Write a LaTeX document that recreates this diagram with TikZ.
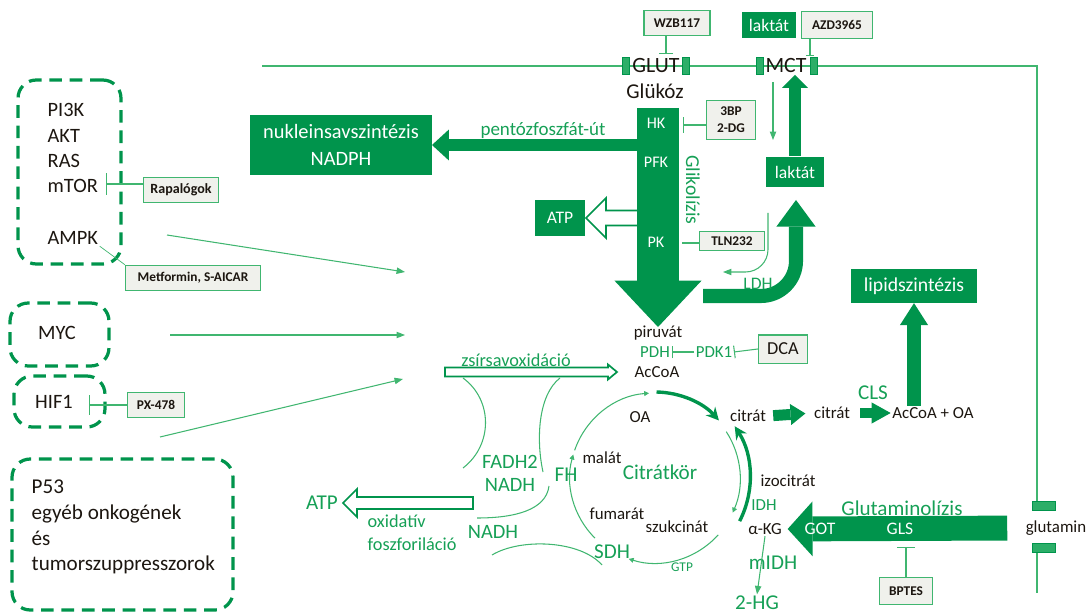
\documentclass[tikz,border=0pt]{standalone}
\usepackage{fontspec}
\setmainfont{Carlito}
\usetikzlibrary{arrows.meta,positioning,fit,calc}

\definecolor{gdark}{RGB}{0,148,76}
\definecolor{gline}{RGB}{64,182,112}
\definecolor{gtext}{RGB}{22,160,86}
\definecolor{gbar}{RGB}{44,174,104}
\definecolor{dfill}{RGB}{240,241,236}
\definecolor{ink}{RGB}{28,22,16}

\tikzset{
  lbl/.style={inner sep=1pt, text=ink, font=\fontsize{#1}{#1}\selectfont},
  lbl/.default=12,
  glbl/.style={inner sep=1pt, text=gtext, font=\fontsize{#1}{#1}\selectfont},
  glbl/.default=13,
  wlbl/.style={inner sep=1pt, text=white, font=\fontsize{#1}{#1}\selectfont},
  wlbl/.default=11.5,
  darkbox/.style={fill=gdark, text=white, inner sep=0pt, font=\fontsize{12.5}{15}\selectfont},
  drug/.style={draw=gline, fill=dfill, line width=0.8pt, text=ink, inner sep=0pt,
    font=\bfseries\fontsize{9.5}{12}\selectfont, minimum height=18pt},
  grp/.style={draw=gdark, line width=2.3pt, dash pattern=on 9pt off 5.5pt,
    rounded corners=13pt, inner sep=0pt},
  chan/.style={draw=gdark, fill=gbar, line width=0.6pt, inner sep=0pt},
  flow/.style={draw=gline, line width=0.75pt},
  flowarr/.style={flow, -{Triangle[length=6pt,width=4.5pt]}},
  tinyarr/.style={flow, -{Triangle[length=3.5pt,width=3.5pt]}},
  inh/.style={flow, -{Bar[width=#1]}},
  inh/.default=10pt,
  fat/.style n args={3}{draw=gdark, line width=#1,
    -{Triangle[width=#2,length=#3,line width=0pt]}},
  cyc/.style={draw=gdark, line width=2.4pt, -{Stealth[length=9pt,width=9pt]}}
}

\begin{document}
\begin{tikzpicture}[x=0.025cm, y=-0.025cm]
\useasboundingbox (0,0) rectangle (1091,616);

\newcommand{\openArrow}[6]{% tail x, tip x, y, shaft half, head half, head length
  \pgfmathsetmacro{\headBase}{#2+sign(#1-#2)*#6}
  \draw[gdark, line width=1.2pt, fill=white, line join=miter]
    (#1,#3-#4) -- (\headBase,#3-#4) -- (\headBase,#3-#5) -- (#2,#3) --
    (\headBase,#3+#5) -- (\headBase,#3+#4) -- (#1,#3+#4) -- cycle;
}

% membrane and transporters
\draw[flow] (262,66) -- (1037,66) -- (1037,502);
\draw[flow] (1037,553) -- (1037,593);
\node[chan, minimum width=4.5pt, minimum height=12pt] (glutL) at (626,66) {};
\node[chan, minimum width=4.5pt, minimum height=12pt] (glutR) at (686,66) {};
\node[chan, minimum width=4.5pt, minimum height=12pt] (mctL) at (760,66) {};
\node[chan, minimum width=4.5pt, minimum height=12pt] (mctR) at (814,66) {};
\node[lbl=15.5] (glut) at (656,66) {GLUT};
\node[lbl=15.5] (mct) at (786,66) {MCT};
\node[chan, minimum width=16pt, minimum height=6.5pt] (glnT) at (1044,506) {};
\node[chan, minimum width=16pt, minimum height=6.5pt] (glnB) at (1044,548) {};
\node[lbl] (gln) at (1056,528) {glutamin};

% top inhibitors
\node[drug, minimum width=47pt] (wzb) at (677,23) {WZB117};
\node[darkbox, minimum width=39pt, minimum height=19pt] (lakt1) at (769,25) {laktát};
\node[drug, minimum width=50pt, minimum height=19pt] (azd) at (837,25) {AZD3965};
\coordinate (glutT) at (666,54);
\coordinate (mctT) at (810,56);
\draw[inh=10pt] (wzb.south -| glutT) -- (glutT);
\draw[inh=6pt] (azd.south -| mctT) -- (mctT);
\node[lbl=15] (glc) at (655,91) {Glükóz};

% glycolysis
\node[darkbox, minimum width=35pt, minimum height=25pt] (atp1) at (560,218) {ATP};
\openArrow{645}{586}{218}{7.5}{20}{20}
\node[darkbox, minimum width=129pt, minimum height=42pt, align=center,
  font=\fontsize{14.5}{19}\selectfont] (nuk) at (341,145) {nukleinsavszintézis\\NADPH};
\coordinate (glyTop) at (658,108);
\coordinate (glyTip) at (658,327);
\draw[fat={9.2pt}{22pt}{12pt}] (nuk.east -| glyTop) -- (nuk.east);
\node[glbl=13.5, anchor=base] (ppp) at (543,136) {pentózfoszfát-út};
\draw[fat={29.8pt}{62pt}{33pt}] (glyTop) -- (glyTip);
\node[wlbl] (hk) at (656,123) {HK};
\node[wlbl] (pfk) at (656,162) {PFK};
\node[wlbl] (pk) at (656,242) {PK};
\node[glbl=14, rotate=-90] (gly) at (693,190) {Glikolízis};
\node[drug, minimum width=35pt, minimum height=28pt, align=center] (bp) at (731,120) {3BP\\2-DG};
\coordinate (hkT) at (683,125);
\draw[inh=11pt] (bp.west |- hkT) -- (hkT);
\node[drug, minimum width=46pt, minimum height=14pt] (tln) at (732,241) {TLN232};
\coordinate (pkT) at (682,243);
\draw[flow] (tln.west |- pkT) -- (pkT);

% lactate
\node[darkbox, minimum width=41pt, minimum height=22pt] (lakt2) at (795,172) {laktát};
\draw[flowarr] (773,82) -- (773,140);
\draw[fat={9.2pt}{18.4pt}{9.2pt}] (lakt2.north) -- (lakt2.north |- mct.south);
\coordinate (ldhTip) at (796,200);
\draw[fat={10pt}{28pt}{19pt}, rounded corners=25pt] (703,296) -| (ldhTip);
\draw[flowarr, rounded corners=16pt] (768,213) |- (723,272);
\node[glbl=12.5] (ldh) at (758,284) {LDH};

% pyruvate, PDH
\node[lbl] (pyr) at (658,333) {piruvát};
\node[glbl=12] (pdh) at (655,352) {PDH};
\node[glbl=12] (pdk) at (714,352) {PDK1};
\node[drug, font=\fontsize{13}{13}\selectfont, minimum width=35pt, minimum height=20pt] (dca) at (783,349) {DCA};
\draw[inh=9pt] (pdk.west) -- (pdh.east);
\draw[inh=9pt] (dca.west) -- (pdk.east);
\node[lbl] (acoa) at (657,372) {AcCoA};

% fatty acid oxidation
\openArrow{445}{617}{372}{4.5}{7.5}{9}
\node[glbl=13, anchor=base] (fao) at (516,366) {zsírsavoxidáció};

% regulators
\node[grp, fit={(18,80) (121,264)}] (grpA) {};
\node[lbl=14.5, anchor=west] (pi3k) at (46,110) {PI3K};
\node[lbl=14.5, anchor=west] (akt) at (46,136) {AKT};
\node[lbl=14.5, anchor=west] (ras) at (46,161) {RAS};
\node[lbl=14.5, anchor=west] (mtor) at (46,186) {mTOR};
\node[lbl=14.5, anchor=west] (ampk) at (46,238) {AMPK};
\node[drug, font=\bfseries\fontsize{10}{12}\selectfont, minimum width=53pt] (rapa) at (181,190) {Rapalógok};
\coordinate (mtorT) at (106,184);
\draw[inh=15pt] (rapa.west |- mtorT) -- (mtorT);
\node[drug, minimum width=96pt] (metf) at (193,278) {Metformin, S-AICAR};
\draw[flow, line width=0.5pt] (ampk.south east) -- (metf.north west);

\node[grp, fit={(10,303) (109,366)}] (grpB) {};
\node[lbl=14.5] (myc) at (57,333) {MYC};
\node[grp, fit={(14,376) (105,427)}] (grpC) {};
\node[lbl=14.5] (hif) at (54,402) {HIF1};
\node[drug, minimum width=41pt] (px) at (156,405) {PX-478};
\coordinate (hifT) at (89,405);
\draw[inh=14pt] (px.west) -- (hifT);
\node[grp, fit={(12,459) (233,610)}] (grpD) {};
\node[lbl, anchor=west, align=left, font=\fontsize{15}{18.3}\selectfont] (p53) at (30,527)
  {P53\\egyéb onkogének\\és\\tumorszuppresszorok};

\coordinate (s1) at (167,235);
\coordinate (e1) at (405,272);
\coordinate (s2) at (170,335);
\coordinate (e2) at (405,335);
\coordinate (s3) at (160,437);
\coordinate (e3) at (403,379);
\draw[flowarr] (s1) -- (e1);
\draw[flowarr] (s2) -- (e2);
\draw[flowarr] (s3) -- (e3);

% citric acid cycle
\coordinate (tca) at (655,478);
\draw[tinyarr] (tca) ++(135:85) arc[start angle=135, end angle=196, radius=85];
\draw[tinyarr] (tca) ++(199:85) arc[start angle=199, end angle=266, radius=85];
\draw[cyc] (tca) ++(271:86) arc[start angle=271, end angle=318, radius=86];
\draw[tinyarr] (tca) ++(327:85) arc[start angle=327, end angle=384, radius=85];
\draw[cyc] (tca) ++(27:95) arc[start angle=27, end angle=-33, radius=95];
\draw[tinyarr] (tca) ++(42:85) arc[start angle=42, end angle=108, radius=85];
\node[lbl] (oa) at (640,417) {OA};
\node[lbl] (mal) at (602,458) {malát};
\node[glbl=15] (tcaName) at (660,472) {Citrátkör};
\node[lbl] (fum) at (617,514) {fumarát};
\node[lbl] (szuk) at (677,527) {szukcinát};
\node[lbl] (cit1) at (748,416) {citrát};
\node[lbl] (izo) at (788,481) {izocitrát};
\node[glbl=12] (idh) at (764,505) {IDH};
\node[lbl] (akg) at (765,529) {α-KG};
\node[glbl=15] (midh) at (773,563) {mIDH};
\node[glbl=15] (hg) at (757,603) {2-HG};
\draw[flowarr] (akg.south) -- (hg.north);
\node[glbl=15] (fh) at (566,475) {FH};
\node[glbl=15] (sdh) at (612,552) {SDH};
\node[glbl=9.5] (gtp) at (682,567) {GTP};

% electron carriers, oxidative phosphorylation
\node[glbl, align=center, font=\fontsize{14.5}{16.5}\selectfont] (fadh) at (510,473) {FADH2\\NADH};
\node[glbl=14.5] (nadh) at (493,532) {NADH};
\openArrow{473}{343}{503}{6}{14}{14}
\node[glbl=15] (atp2) at (322,503) {ATP};
\node[glbl, anchor=west, align=left, font=\fontsize{13}{16.5}\selectfont] (oxph) at (366,533) {oxidatív\\foszforiláció};
\draw[flow] (463,378) .. controls (493,400) and (493,445) .. (463,468);
\draw[flow] (560,378) .. controls (538,395) and (536,440) .. (543,472);
\draw[flow] (549,486) .. controls (546,510) and (515,518) .. (477,518);
\draw[flow] (492,555) .. controls (520,538) and (580,540) .. (602,565);

% citrate export, lipid synthesis
\node[lbl] (cit2) at (832,413) {citrát};
\node[lbl] (acoa2) at (933,413) {AcCoA + OA};
\draw[fat={7.8pt}{15pt}{10.6pt}, shorten <=4pt, shorten >=5pt] (cit1.east) -- (cit2.west);
\draw[fat={7.8pt}{15pt}{13.5pt}, shorten <=6pt] (cit2.east) -- (acoa2.west);
\node[glbl=15] (cls) at (873,393) {CLS};
\node[darkbox, minimum width=89pt, minimum height=24pt, font=\fontsize{14}{16}\selectfont] (lipid) at (914,286) {lipidszintézis};
\draw[fat={10.6pt}{20pt}{15.6pt}] (acoa2.north -| lipid) -- (lipid.south);

% glutaminolysis
\draw[fat={17.7pt}{39pt}{17.7pt}, shorten <=12pt, shorten >=3pt] (gln.west) -- (akg.east);
\node[glbl=15] (glnName) at (902,508) {Glutaminolízis};
\node[wlbl=12.5] (got) at (820,529) {GOT};
\node[wlbl=12.5] (gls) at (900,529) {GLS};
\node[drug, minimum width=38pt, minimum height=19pt] (bptes) at (906,591) {BPTES};
\coordinate (glsT) at (906,547);
\draw[inh=13pt] (bptes.north) -- (glsT);
\end{tikzpicture}
\end{document}
